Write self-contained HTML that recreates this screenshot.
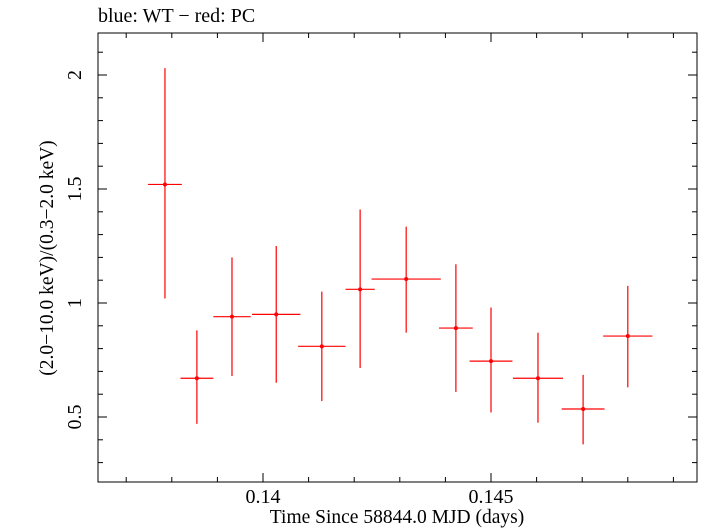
<!DOCTYPE html>
<html><head><meta charset="utf-8"><style>body{margin:0;background:#fff}svg{display:block}text{font-family:"Liberation Serif",serif;fill:#000}</style></head>
<body>
<svg id="chart" width="705" height="532">
<text x="98" y="22" font-size="20">blue: WT − red: PC</text>
<text x="397" y="523" font-size="19.5" text-anchor="middle">Time Since 58844.0 MJD (days)</text>
<text transform="translate(53,258) rotate(-90)" font-size="19.5" text-anchor="middle">(2.0−10.0 keV)/(0.3−2.0 keV)</text>
<rect x="98" y="33" width="599" height="449" fill="none" stroke="#000" stroke-width="1"/>
<g id="ticks"></g><g id="marks"></g>
</svg>
<script>
const xCenters=[0.13785,0.13855,0.13932,0.14029,0.14129,0.14213,0.14314,0.14423,0.14500,0.14603,0.14702,0.14800];
const xHalfWidths=[0.00037,0.00036,0.00041,0.00053,0.00052,0.00032,0.00076,0.00037,0.00047,0.00055,0.00047,0.00054];
const yValues=[1.52,0.67,0.94,0.95,0.81,1.06,1.105,0.89,0.745,0.67,0.535,0.855];
const yUpper=[2.03,0.88,1.20,1.25,1.05,1.41,1.335,1.17,0.98,0.87,0.685,1.075];
const yLower=[1.02,0.47,0.68,0.65,0.57,0.715,0.87,0.61,0.52,0.475,0.38,0.63];
const xTickLabels=["0.14","0.145"];
const yTickLabels=["0.5","1","1.5","2"];
const L=98,R=697,T=33,B=482;
const xs=v=>263+(v-0.14)*45600;
const ys=v=>531-v*228;
const NS="http://www.w3.org/2000/svg";
function mk(tag,attrs,parent){const e=document.createElementNS(NS,tag);for(const k in attrs)e.setAttribute(k,attrs[k]);parent.appendChild(e);return e;}
const tg=document.getElementById('ticks'),mg=document.getElementById('marks');
for(let i=137;i<=149;i++){const v=i/1000,x=xs(v);if(x<L||x>R)continue;const major=(i%5===0);const len=major?9:5;
 const t1=mk('line',{x1:x,x2:x,y1:B,y2:B-len,stroke:'#000'},tg);
 const t2=mk('line',{x1:x,x2:x,y1:T,y2:T+len,stroke:'#000'},tg);}
xTickLabels.forEach(s=>{const t=mk('text',{x:xs(parseFloat(s)),y:503,'font-size':20,'text-anchor':'middle'},tg);t.textContent=s;});
for(let i=3;i<=21;i++){const v=i/10,y=ys(v);if(y<T||y>B)continue;const major=(i%5===0);const len=major?9:5;
 const t1=mk('line',{x1:L,x2:L+len,y1:y,y2:y,stroke:'#000'},tg);
 const t2=mk('line',{x1:R,x2:R-len,y1:y,y2:y,stroke:'#000'},tg);}
yTickLabels.forEach(s=>{const y=ys(parseFloat(s));const t=mk('text',{transform:`translate(81,${y}) rotate(-90)`,'font-size':20,'text-anchor':'middle'},tg);t.textContent=s;});
xCenters.forEach((c,i)=>{const g=mk('g',{},mg);
 mk('line',{x1:xs(c-xHalfWidths[i]),x2:xs(c+xHalfWidths[i]),y1:ys(yValues[i]),y2:ys(yValues[i]),stroke:'#f00','stroke-width':1.2},g);
 mk('line',{x1:xs(c),x2:xs(c),y1:ys(yUpper[i]),y2:ys(yLower[i]),stroke:'#f00','stroke-width':1.2},g);
 mk('circle',{cx:xs(c),cy:ys(yValues[i]),r:2,fill:'#f00'},g);});
</script>
</body></html>
